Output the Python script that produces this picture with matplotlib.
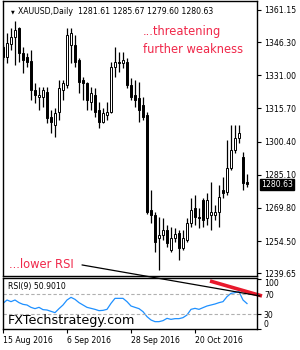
import matplotlib
matplotlib.use("Agg")
import matplotlib.pyplot as plt
from matplotlib.patches import ConnectionPatch
import numpy as np

# daily XAUUSD candles, 15 Aug 2016 .. 8 Nov 2016
opens = [1344.1, 1339.5, 1345.5, 1348.7, 1352.8, 1341.3, 1339.5, 1337.6, 1324.2, 1321.0,
         1321.0, 1323.3, 1311.8, 1308.1, 1314.1, 1324.2, 1326.5, 1345.0, 1345.0, 1338.1,
         1328.8, 1327.5, 1318.7, 1321.9, 1315.0, 1309.5, 1312.7, 1314.1, 1334.8, 1337.2,
         1336.7, 1337.2, 1326.5, 1321.9, 1320.5, 1317.3, 1312.7, 1268.8, 1266.5, 1255.9,
         1257.3, 1259.6, 1250.4, 1255.9, 1258.2, 1251.3, 1255.0, 1262.9, 1269.8, 1265.6,
         1273.5, 1265.2, 1266.5, 1266.5, 1267.9, 1278.1, 1277.2, 1288.2, 1296.5, 1302.1,
         1293.3, 1281.61]
highs = [1345.0, 1350.5, 1352.8, 1356.1, 1353.3, 1344.1, 1341.3, 1342.7, 1327.5, 1325.6,
         1325.6, 1325.6, 1315.0, 1315.9, 1328.8, 1328.8, 1352.8, 1352.8, 1349.6, 1339.0,
         1330.2, 1327.9, 1325.6, 1325.2, 1318.7, 1315.9, 1318.7, 1337.2, 1344.1, 1341.8,
         1341.8, 1339.0, 1329.8, 1328.8, 1327.9, 1321.0, 1314.1, 1278.1, 1267.9, 1265.6,
         1265.2, 1261.9, 1261.0, 1260.5, 1259.6, 1259.6, 1265.2, 1274.4, 1275.8, 1269.8,
         1274.4, 1276.7, 1281.8, 1271.2, 1280.4, 1284.1, 1301.2, 1308.1, 1308.1, 1308.1,
         1295.6, 1285.67]
lows = [1338.1, 1336.7, 1342.7, 1335.8, 1337.2, 1332.1, 1334.8, 1319.6, 1318.2, 1315.0,
        1316.4, 1309.0, 1304.4, 1302.5, 1310.4, 1319.6, 1325.2, 1336.7, 1334.8, 1322.8,
        1319.6, 1315.0, 1315.0, 1311.8, 1306.7, 1309.0, 1310.4, 1313.6, 1330.2, 1332.5,
        1334.4, 1325.2, 1319.6, 1316.4, 1309.5, 1310.4, 1267.0, 1262.9, 1249.5, 1241.2,
        1255.0, 1251.8, 1249.5, 1254.1, 1245.8, 1250.4, 1254.1, 1261.0, 1261.9, 1260.5,
        1261.0, 1261.9, 1259.6, 1264.2, 1261.0, 1274.4, 1275.8, 1287.3, 1295.2, 1299.8,
        1278.1, 1279.60]
closes = [1339.5, 1345.9, 1348.7, 1351.9, 1341.3, 1338.1, 1337.2, 1324.2, 1321.9, 1321.9,
          1324.2, 1311.3, 1309.5, 1313.6, 1325.2, 1327.5, 1349.6, 1350.5, 1337.2, 1327.9,
          1327.5, 1319.6, 1322.8, 1314.1, 1309.5, 1313.6, 1314.1, 1334.8, 1337.2, 1336.7,
          1338.1, 1326.5, 1321.0, 1319.6, 1315.0, 1311.8, 1267.9, 1266.5, 1254.1, 1257.3,
          1259.6, 1253.6, 1255.9, 1257.8, 1251.3, 1255.9, 1262.9, 1268.8, 1265.6, 1265.2,
          1264.2, 1273.5, 1267.9, 1267.9, 1274.8, 1276.7, 1288.2, 1296.5, 1302.1, 1304.4,
          1281.3, 1280.63]
rsi = [51.3, 58.0, 54.7, 58.0, 52.7, 49.3, 48.0, 43.3, 40.7, 43.3,
       38.7, 38.0, 35.3, 32.7, 40.7, 48.0, 58.0, 63.3, 59.3, 52.7,
       48.0, 43.3, 41.3, 39.3, 36.7, 37.3, 39.3, 51.3, 61.3, 61.3,
       61.3, 54.7, 46.0, 43.3, 40.7, 34.7, 24.7, 18.0, 14.7, 14.7,
       16.7, 21.3, 19.3, 20.7, 20.7, 22.7, 28.0, 39.3, 41.3, 39.3,
       42.7, 46.0, 48.0, 50.0, 52.7, 54.7, 64.7, 71.3, 72.7, 74.7,
       58.0, 50.9]

price_ticks = [1361.15, 1346.30, 1331.00, 1315.70, 1300.40, 1285.10, 1269.80, 1254.50, 1239.65]
rsi_ticks = [100, 70, 30, 0]
date_idx = [0, 16, 32, 48]
date_labels = ["15 Aug 2016", "6 Sep 2016", "28 Sep 2016", "20 Oct 2016"]

red = "#f0284a"

fig = plt.figure(figsize=(3, 3.5), dpi=100)
ax = fig.add_axes([2.5 / 300, 1 - 276 / 350, 254.5 / 300, 275 / 350])
ax2 = fig.add_axes([2.5 / 300, 1 - 329 / 350, 254.5 / 300, 51 / 350])

o = np.array(opens); h = np.array(highs); l = np.array(lows); c = np.array(closes)
x = np.arange(len(o))
up = c >= o
ax.vlines(x, l, h, color="black", lw=0.9)
ax.bar(x[up], np.maximum(c[up] - o[up], 0.4), bottom=o[up], width=0.5,
       color="white", edgecolor="black", lw=0.7, zorder=3)
ax.bar(x[~up], np.maximum(o[~up] - c[~up], 0.4), bottom=c[~up], width=0.5,
       color="black", edgecolor="black", lw=0.7, zorder=3)

ax.set_xlim(-0.125, 63.5)
ax.set_ylim(1238.4, 1365.3)
ax.yaxis.tick_right()
ax.set_yticks(price_ticks)
ax.set_yticklabels(["%.2f" % p for p in price_ticks])
ax.tick_params(axis="y", length=3, width=0.8, pad=2, labelsize=5.6)
ax.set_xticks([])
for s in ax.spines.values():
    s.set_linewidth(1)

ax.text(0.035, 0.962, "\u25BC", transform=ax.transAxes, fontsize=3.5, va="center")
ax.text(0.06, 0.962, "XAUUSD,Daily  1281.61 1285.67 1279.60 1280.63", transform=ax.transAxes,
        fontsize=5.6, va="center")
ax.text(35, 1351.1, "...threatening", fontsize=8.3, color=red, va="center")
ax.text(35, 1343.0, "further weakness", fontsize=8.3, color=red, va="center")
ax.text(1.6, 1243.6, "...lower RSI", fontsize=8.3, color=red, va="center")
ax.annotate("1280.63", xy=(1.0, closes[-1]), xycoords=("axes fraction", "data"),
            xytext=(3, 0), textcoords="offset points", fontsize=5.6, color="white",
            va="center", ha="left",
            bbox=dict(boxstyle="square,pad=0.15", fc="black", ec="black"),
            annotation_clip=False)

ax2.plot(x, rsi, color="#1e90ff", lw=0.9)
ax2.axhline(70, color="#b0b0b0", lw=0.8, ls=(0, (3, 2)))
ax2.axhline(30, color="#b0b0b0", lw=0.8, ls=(0, (3, 2)))
ax2.set_xlim(-0.125, 63.5)
ax2.set_ylim(0, 102)
ax2.yaxis.tick_right()
ax2.set_yticks(rsi_ticks)
ax2.set_yticklabels(["100", "70", "30", "0"])
ax2.tick_params(axis="y", length=3, width=0.8, pad=2, labelsize=5.6)
lbls = ax2.get_yticklabels()
lbls[0].set_va("top")
lbls[-1].set_va("bottom")
ax2.set_xticks(date_idx)
ax2.set_xticklabels(date_labels, ha="left")
ax2.tick_params(axis="x", length=3, width=0.8, pad=2, labelsize=5.6)
for s in ax2.spines.values():
    s.set_linewidth(1)
ax2.text(0.02, 0.84, "RSI(9) 50.9010", transform=ax2.transAxes, fontsize=5.6, va="center")
ax2.text(0.02, 0.16, "FXTechstrategy.com", transform=ax2.transAxes, fontsize=9.2, va="center")

# red RSI trendline
ax2.plot([51.75, 64.75], [96, 66], color="#e8192c", lw=2.6, clip_on=False, solid_capstyle="butt")

# black line from the "lower RSI" note to the RSI trendline
con = ConnectionPatch(xyA=(19.75, 1243.5), coordsA=ax.transData,
                      xyB=(64.25, 66), coordsB=ax2.transData, color="black", lw=0.9)
fig.add_artist(con)

fig.savefig("out.png", dpi=100)
